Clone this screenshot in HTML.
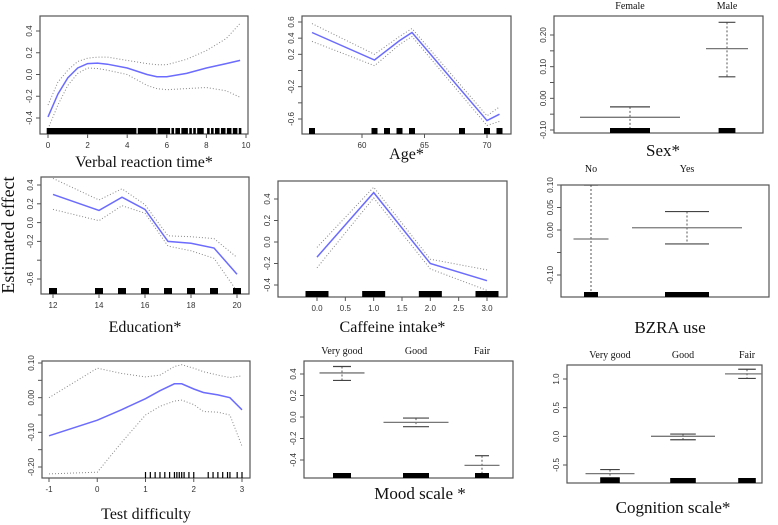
<!DOCTYPE html>
<html><head><meta charset="utf-8"><style>
html,body{margin:0;padding:0;background:#fff;}
svg{display:block;}
.tl{font-family:"Liberation Sans",sans-serif;font-size:8px;fill:#333;}
.ti{font-family:"Liberation Serif",serif;fill:#111;}
</style></head><body>
<svg id="fig" width="778" height="525" viewBox="0 0 778 525" xmlns="http://www.w3.org/2000/svg">
<text class="ti" font-size="18" transform="translate(14,235) rotate(-90)" text-anchor="middle">Estimated effect</text>
</svg>
<script>
// ---------- data ----------
const vrtX=[0,0.5,1,1.5,2,2.5,3,4,5,5.5,6,7,8,9,9.7];
const vrtFit=[-0.39,-0.18,-0.03,0.06,0.10,0.105,0.095,0.06,0.0,-0.02,-0.02,0.01,0.06,0.10,0.13];
const vrtUp=[-0.28,-0.07,0.04,0.12,0.15,0.16,0.16,0.13,0.10,0.09,0.09,0.14,0.22,0.33,0.47];
const vrtLo=[-0.50,-0.28,-0.10,0.01,0.06,0.055,0.04,0.0,-0.10,-0.13,-0.14,-0.13,-0.12,-0.15,-0.21];
const vrtRug=[0,0.1,0.2,0.3,0.4,0.5,0.6,0.7,0.8,0.9,1,1.1,1.2,1.3,1.4,1.5,1.6,1.7,1.8,1.9,2,2.1,2.2,2.3,2.4,2.5,2.6,2.7,2.8,2.9,3,3.1,3.2,3.3,3.4,3.5,3.6,3.7,3.8,3.9,4,4.1,4.2,4.3,4.4,4.6,4.7,4.8,4.9,5.0,5.1,5.2,5.3,5.4,5.6,5.7,5.8,5.9,6.0,6.1,6.3,6.5,6.6,6.8,6.9,7.0,7.2,7.4,7.6,7.7,7.8,8.1,8.3,8.5,8.6,8.8,8.9,9.1,9.2,9.4,9.5,9.7];
const ageX=[56,61,63,64,70,71];
const ageFit=[0.47,0.13,0.37,0.47,-0.62,-0.54];
const ageUp=[0.58,0.20,0.42,0.52,-0.56,-0.45];
const ageLo=[0.36,0.06,0.32,0.42,-0.68,-0.63];
const ageRug=[56,61,62,63,64,68,70,71];
const sexCats=["Female","Male"];
const sexMean=[-0.06,0.157];
const sexUp=[-0.027,0.24];
const sexLo=[-0.10,0.068];
const sexN=[100,42];
const eduX=[12,14,15,16,17,18,19,20];
const eduFit=[0.30,0.13,0.27,0.14,-0.20,-0.22,-0.27,-0.55];
const eduUp=[0.47,0.24,0.36,0.19,-0.14,-0.15,-0.17,-0.37];
const eduLo=[0.14,0.02,0.18,0.10,-0.25,-0.30,-0.38,-0.73];
const eduRug=[12,14,15,16,17,18,19,20];
const cafX=[0,1,2,3];
const cafFit=[-0.14,0.46,-0.20,-0.36];
const cafUp=[-0.05,0.51,-0.16,-0.26];
const cafLo=[-0.24,0.41,-0.25,-0.45];
const cafRug=[0,1,2,3];
const bzCats=["No","Yes"];
const bzMean=[-0.02,0.005];
const bzUp=[0.10,0.041];
const bzLo=[-0.15,-0.031];
const bzN=[35,110];
const tdX=[-1,0,0.5,1,1.3,1.6,1.75,2.0,2.2,2.5,2.75,3];
const tdFit=[-0.11,-0.065,-0.035,-0.003,0.02,0.04,0.04,0.025,0.015,0.008,0.0,-0.035];
const tdUp=[0.0,0.085,0.07,0.06,0.065,0.09,0.095,0.085,0.075,0.065,0.058,0.063];
const tdLo=[-0.22,-0.215,-0.13,-0.05,-0.025,-0.01,-0.007,-0.02,-0.04,-0.042,-0.05,-0.14];
const tdRug=[1,1.1,1.2,1.3,1.4,1.5,1.6,1.65,1.7,1.75,1.8,1.9,2.0,2.3,2.4,2.5,2.6,2.7,2.75,2.9,3];
const moodCats=["Very good","Good","Fair"];
const moodMean=[0.41,-0.05,-0.45];
const moodUp=[0.47,-0.01,-0.36];
const moodLo=[0.34,-0.09,-0.53];
const moodN=[45,65,35];
const cogCats=["Very good","Good","Fair"];
const cogMean=[-0.65,0.0,1.09];
const cogUp=[-0.58,0.04,1.17];
const cogLo=[-0.72,-0.06,1.01];
const cogN=[49,64,44];

// ---------- drawing ----------
const NS="http://www.w3.org/2000/svg";
const svg=document.getElementById('fig');
function mk(tag,attrs,parent){const e=document.createElementNS(NS,tag);for(const k in attrs)e.setAttribute(k,attrs[k]);(parent||svg).appendChild(e);return e;}
function lin(v1,p1,v2,p2){return v=>p1+(v-v1)*(p2-p1)/(v2-v1);}

function frame(g,box,yt,yl,ys){
  const [l,t,r,b]=box;
  const f=mk('rect',{x:l,y:t,width:r-l,height:b-t,fill:'none',stroke:'#555','stroke-width':1.2},g);
  
  
  yt.forEach((v,i)=>{const y=ys(v);
    const tk=mk('line',{x1:l-4,x2:l,y1:y,y2:y,stroke:'#555'},g);
    
    
    if(yl[i]){const tx=mk('text',{class:'tl','text-anchor':'middle',transform:`translate(${l-8},${y}) rotate(-90)`},g);tx.textContent=yl[i];
      
      }
  });
}
function title(g,x,y,txt,size){const t=mk('text',{class:'ti','text-anchor':'middle',x:x,y:y,'font-size':size},g);t.textContent=txt;
  
  }
function pts(xs,vs,sx,sy){return xs.map((x,i)=>sx(x).toFixed(1)+','+sy(vs[i]).toFixed(1)).join(' ');}

function contPanel(name,box,xsc,ysc,yt,yl,xt,xl,X,fit,up,lo,rug,rugW,ttl,ttlY){
  const g=mk('g',{});
  
  
  const sx=lin(...xsc),sy=lin(...ysc);
  const [l,t,r,b]=box;
  frame(g,box,yt,yl,sy);
  xt.forEach((v,i)=>{const x=sx(v);
    const tk=mk('line',{x1:x,x2:x,y1:b,y2:b+4,stroke:'#555'},g);
    
    
    const tx=mk('text',{class:'tl','text-anchor':'middle',x:x,y:b+14},g);tx.textContent=xl[i];
    
    });
  const cp=mk('clipPath',{id:'c'+name},g);mk('rect',{x:l,y:t,width:r-l,height:b-t},cp);
  const pg=mk('g',{'clip-path':`url(#c${name})`},g);
  const u=mk('polyline',{points:pts(X,up,sx,sy),fill:'none',stroke:'#888','stroke-width':1,'stroke-dasharray':'1,2'},pg);
  
  
  const lw=mk('polyline',{points:pts(X,lo,sx,sy),fill:'none',stroke:'#888','stroke-width':1,'stroke-dasharray':'1,2'},pg);
  
  
  const f=mk('polyline',{points:pts(X,fit,sx,sy),fill:'none',stroke:'#6b6bff','stroke-width':1.5},pg);
  
  
  rug.forEach(v=>{const x=sx(v);
    const rr=mk('rect',{x:x-rugW/2,y:b-6,width:Math.max(rugW,1),height:6,fill:'#000'},g);
    
    });
  title(g,(l+r)/2,ttlY,ttl,16);
}

function factPanel(name,box,ysc,yt,yl,cats,catX,mean,up,lo,n,labY,ttl,ttlX,ttlY){
  const g=mk('g',{});
  
  
  const sy=lin(...ysc);
  const [l,t,r,b]=box;
  frame(g,box,yt,yl,sy);
  const cp=mk('clipPath',{id:'c'+name},g);mk('rect',{x:l,y:t,width:r-l,height:b-t},cp);
  const pg=mk('g',{'clip-path':`url(#c${name})`},g);
  cats.forEach((c,i)=>{const x=catX[i];const w=n[i]*1.0,cw=n[i]*0.2;
    const lb=mk('text',{class:'ti','font-size':10,'text-anchor':'middle',x:x,y:labY},g);lb.textContent=c;
    
    
    const v=mk('line',{x1:x,x2:x,y1:sy(up[i]),y2:sy(lo[i]),stroke:'#555','stroke-dasharray':'2,2'},pg);
    
    
    [up[i],lo[i]].forEach(cv=>{const cl=mk('line',{x1:x-cw,x2:x+cw,y1:sy(cv),y2:sy(cv),stroke:'#444','stroke-width':1.2},pg);
      
      });
    const m=mk('line',{x1:x-w/2,x2:x+w/2,y1:sy(mean[i]),y2:sy(mean[i]),stroke:'#777','stroke-width':1.3},pg);
    
    
    const rr=mk('rect',{x:x-cw,y:b-5,width:cw*2,height:5,fill:'#000'},g);
    
    
  });
  title(g,ttlX,ttlY,ttl,17);
}

contPanel('verbal-reaction-time',[40,16,248,134],[0,48,10,246],[0.4,31,-0.4,118],
  [-0.4,-0.2,0,0.2,0.4],['-0.4','-0.2','0.0','0.2','0.4'],[0,2,4,6,8,10],['0','2','4','6','8','10'],
  vrtX,vrtFit,vrtUp,vrtLo,vrtRug,2.6,'Verbal reaction time*',167);
contPanel('age',[302,16,511,134],[60,362,70,487],[0.6,22,-0.6,119],
  [-0.6,-0.4,-0.2,0,0.2,0.4,0.6],['-0.6','','-0.2','','0.2','0.4','0.6'],[60,65,70],['60','65','70'],
  ageX,ageFit,ageUp,ageLo,ageRug,6,'Age*',159);
factPanel('sex',[554,16,763,133],[0.2,35,-0.1,130],[-0.1,-0.05,0,0.05,0.1,0.15,0.2],['-0.10','','0.00','','0.10','','0.20'],
  sexCats,[630,727],sexMean,sexUp,sexLo,sexN,9,'Sex*',663,156);
contPanel('education',[41,177,249,294],[12,53,20,237],[0.4,185,-0.6,279],
  [-0.6,-0.4,-0.2,0,0.2,0.4],['-0.6','','-0.2','0.0','0.2','0.4'],[12,14,16,18,20],['12','14','16','18','20'],
  eduX,eduFit,eduUp,eduLo,eduRug,8,'Education*',332);
contPanel('caffeine-intake',[278,181,507,297],[0,317,3,487],[0.4,199,-0.4,285],
  [-0.4,-0.2,0,0.2,0.4],['-0.4','-0.2','0.0','0.2','0.4'],[0,0.5,1,1.5,2,2.5,3],['0.0','0.5','1.0','1.5','2.0','2.5','3.0'],
  cafX,cafFit,cafUp,cafLo,cafRug,23,'Caffeine intake*',332);
factPanel('bzra-use',[561,185,769,297],[0.10,185,-0.10,275],[-0.10,-0.05,0,0.05,0.10],['-0.10','','0.00','0.05','0.10'],
  bzCats,[591,687],bzMean,bzUp,bzLo,bzN,172,'BZRA use',670,333);
contPanel('test-difficulty',[42,361,250,478],[-1,49,3,242],[0.1,363,-0.2,467],
  [-0.2,-0.15,-0.1,-0.05,0,0.05,0.1],['-0.20','','-0.10','','0.00','','0.10'],[-1,0,1,2,3],['-1','0','1','2','3'],
  tdX,tdFit,tdUp,tdLo,tdRug,1.2,'Test difficulty',519);
factPanel('mood-scale',[304,361,513,478],[0.4,374,-0.4,460],[-0.4,-0.2,0,0.2,0.4],['-0.4','-0.2','0.0','0.2','0.4'],
  moodCats,[342,416,482],moodMean,moodUp,moodLo,moodN,354,'Mood scale *',420,499);
factPanel('cognition-scale',[567,365,762,483],[1.0,379,-0.5,465],[-0.5,0,0.5,1.0],['-0.5','0.0','0.5','1.0'],
  cogCats,[610,683,747],cogMean,cogUp,cogLo,cogN,358,'Cognition scale*',673,513);
</script>
</body></html>
